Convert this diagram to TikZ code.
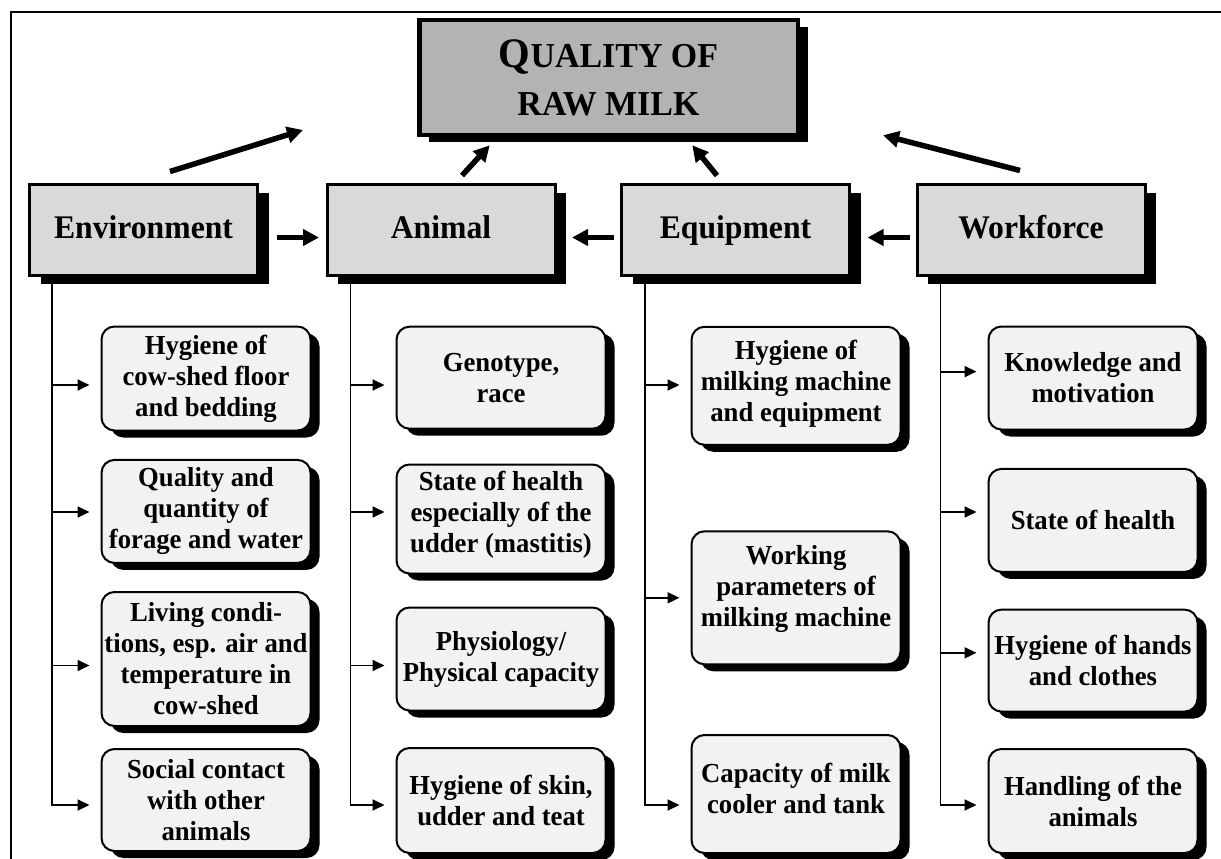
\documentclass[tikz,border=0pt]{standalone}
\usepackage{fontspec}
\setmainfont{Liberation Serif}
\newfontfamily\hdrfont{Liberation Serif}[FakeStretch=0.96]
\newfontfamily\ttlfont{Liberation Serif}[FakeStretch=0.97]
\newfontfamily\subfont{Liberation Serif}[FakeStretch=0.97]
\usetikzlibrary{arrows.meta,shadows}
\definecolor{titlegray}{HTML}{B3B3B3}
\definecolor{hdrgray}{HTML}{D9D9D9}
\definecolor{subgray}{HTML}{F2F2F2}
\tikzset{
 titlebox/.style={draw=black, line width=4.5pt, fill=titlegray, inner sep=0pt, align=center,
   font=\ttlfont\bfseries\fontsize{35}{48}\selectfont,
   drop shadow={shadow xshift=10pt, shadow yshift=-7pt, fill=black, opacity=1}},
 hdrbox/.style={draw=black, line width=3pt, fill=hdrgray, minimum width=228pt, minimum height=91pt,
   inner sep=0pt, text height=23pt, text depth=7pt, font=\hdrfont\bfseries\fontsize{33}{36}\selectfont,
   drop shadow={shadow xshift=11pt, shadow yshift=-8pt, fill=black, opacity=1}},
 subbox/.style={draw=black, line width=2pt, fill=subgray, rounded corners=13pt, inner sep=0pt,
   drop shadow={shadow xshift=9pt, shadow yshift=-7pt, fill=black, opacity=1}},
 subtext/.style={align=center, inner sep=0pt, font=\subfont\bfseries\fontsize{27.5}{31}\selectfont},
 bigarrow/.style={line width=5.5pt, -{Triangle[length=16pt,width=16pt]}},
 brancharrow/.style={line width=1.8pt, -{Triangle[length=12pt,width=11pt]}},
 frameline/.style={line width=2.5pt}
}
\newcommand\mysub[7]{%
  \node[subbox, minimum width=#4pt, minimum height=#5pt] (#1) at (#2,#3) {};
  \node[subtext] (#1t) at ([yshift=#6pt]#1.center) {#7};
}
\begin{document}
\begin{tikzpicture}[x=1pt,y=-1pt]
\useasboundingbox (0,0) rectangle (1221,859);
% frame
\draw[frameline] (11,900) -- (11,12) -- (1240,12);
% title
\node[titlebox, minimum width=378.5pt, minimum height=114.5pt] (title) at (608.5,77.5)
  {{\fontsize{42}{48}\selectfont Q}UALITY OF\\RAW MILK};
% headers
\node[hdrbox] (env) at (143.5,230) {Environment};
\node[hdrbox] (ani) at (441,230) {Animal};
\node[hdrbox] (equ) at (735.5,230) {Equipment};
\node[hdrbox] (wrk) at (1031,230) {Workforce};
% sub boxes column 1
\mysub{ea}{206}{378.5}{209}{104}{0}{Hygiene of\\cow-shed floor\\and bedding}
\mysub{eb}{206}{511.4}{209}{103}{0}{Quality and\\quantity of\\forage and water}
\mysub{ec}{206}{659}{209}{134}{0}{Living condi-\\tions, esp. air and\\temperature in\\cow-shed}
\mysub{ed}{206}{800}{209}{102}{0}{Social contact\\with other\\animals}
% column 2
\mysub{aa}{501}{377.7}{209}{102}{0}{Genotype,\\race}
\mysub{ab}{501}{519}{209}{109}{4}{State of health\\especially of the\\udder (mastitis)}
\mysub{ac}{501}{659}{209}{103}{0}{Physiology/\\Physical capacity}
\mysub{ad}{501}{800.5}{209}{105}{0}{Hygiene of skin,\\udder and teat}
% column 3
\mysub{qa}{796}{385.8}{209}{118}{2}{Hygiene of\\milking machine\\and equipment}
\mysub{qb}{796}{597.8}{209}{133}{9}{Working\\parameters of\\milking machine}
\mysub{qc}{796}{794}{209}{118}{6}{Capacity of milk\\cooler and tank}
% column 4
\mysub{wa}{1093}{378}{209}{103}{0}{Knowledge and\\motivation}
\mysub{wb}{1093}{520.4}{209}{103}{0}{State of health}
\mysub{wc}{1093}{660.6}{209}{102}{0}{Hygiene of hands\\and clothes}
\mysub{wd}{1093}{801}{209}{104}{0}{Handling of the\\animals}
% arrows into the title
\coordinate (envtail) at ([xshift=26.5pt,yshift=11.5pt]env.north);
\coordinate (lefttip) at ([xshift=-114pt,yshift=7pt]title.south west);
\coordinate (anitail) at ([xshift=21pt,yshift=7.5pt]ani.north);
\coordinate (anitip) at ([xshift=72.75pt,yshift=-8.25pt]title.south west);
\coordinate (equtail) at ([xshift=-18.5pt,yshift=7.5pt]equ.north);
\coordinate (equtip) at ([xshift=-107.75pt,yshift=-8.25pt]title.south east);
\coordinate (wrktail) at ([xshift=-11pt,yshift=12.5pt]wrk.north);
\coordinate (righttip) at ([xshift=83pt,yshift=1.75pt]title.south east);
\draw[bigarrow] (envtail) -- (lefttip);
\draw[bigarrow] (anitail) -- (anitip);
\draw[bigarrow] (equtail) -- (equtip);
\draw[bigarrow] (wrktail) -- (righttip);
% arrows between headers
\draw[bigarrow] ([xshift=17.5pt,yshift=-7.5pt]env.east) -- ([xshift=-6.5pt,yshift=-7.5pt]ani.west);
\draw[bigarrow] ([xshift=-6.5pt,yshift=-7.5pt]equ.west) -- ([xshift=15.5pt,yshift=-7.5pt]ani.east);
\draw[bigarrow] ([xshift=-5.5pt,yshift=-7.5pt]wrk.west) -- ([xshift=16.5pt,yshift=-7.5pt]equ.east);
% trunks
\coordinate (tE) at ([xshift=24pt]env.south west);
\coordinate (tA) at ([xshift=25pt]ani.south west);
\coordinate (tQ) at ([xshift=25pt]equ.south west);
\coordinate (tW) at ([xshift=25pt]wrk.south west);
% branch tips
\coordinate (pea) at ([xshift=-11pt,yshift=-6.5pt]ea.west);
\coordinate (peb) at ([xshift=-11pt,yshift=-0.6pt]eb.west);
\coordinate (pec) at ([xshift=-11pt,yshift=-6.5pt]ec.west);
\coordinate (ped) at ([xshift=-11pt,yshift=-5pt]ed.west);
\coordinate (paa) at ([xshift=-11pt,yshift=-7.3pt]aa.west);
\coordinate (pab) at ([xshift=-11pt,yshift=7pt]ab.west);
\coordinate (pac) at ([xshift=-11pt,yshift=-6.5pt]ac.west);
\coordinate (pad) at ([xshift=-11pt,yshift=-4.5pt]ad.west);
\coordinate (pqa) at ([xshift=-11pt,yshift=0.8pt]qa.west);
\coordinate (pqb) at ([xshift=-11pt,yshift=0pt]qb.west);
\coordinate (pqc) at ([xshift=-11pt,yshift=-11pt]qc.west);
\coordinate (pwa) at ([xshift=-11pt,yshift=6.4pt]wa.west);
\coordinate (pwb) at ([xshift=-11pt,yshift=8.4pt]wb.west);
\coordinate (pwc) at ([xshift=-11pt,yshift=7.8pt]wc.west);
\coordinate (pwd) at ([xshift=-11pt,yshift=-4pt]wd.west);
\draw[brancharrow] (tE) |- (ped);
\draw[brancharrow] (tE |- pea) -- (pea);
\draw[brancharrow] (tE |- peb) -- (peb);
\draw[brancharrow] (tE |- pec) -- (pec);
\draw[brancharrow] (tA) |- (pad);
\draw[brancharrow] (tA |- paa) -- (paa);
\draw[brancharrow] (tA |- pab) -- (pab);
\draw[brancharrow] (tA |- pac) -- (pac);
\draw[brancharrow] (tQ) |- (pqc);
\draw[brancharrow] (tQ |- pqa) -- (pqa);
\draw[brancharrow] (tQ |- pqb) -- (pqb);
\draw[brancharrow] (tW) |- (pwd);
\draw[brancharrow] (tW |- pwa) -- (pwa);
\draw[brancharrow] (tW |- pwb) -- (pwb);
\draw[brancharrow] (tW |- pwc) -- (pwc);
\end{tikzpicture}
\end{document}
